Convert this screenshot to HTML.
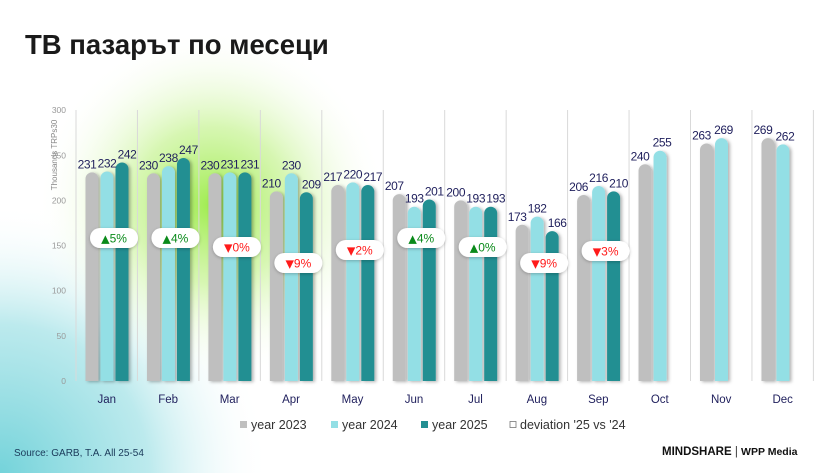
<!DOCTYPE html>
<html><head><meta charset="utf-8"><style>
html,body{margin:0;padding:0;width:840px;height:473px;overflow:hidden;background:#fff}
svg text{font-family:"Liberation Sans",sans-serif}
</style></head><body>
<svg id="s" width="840" height="473" xmlns="http://www.w3.org/2000/svg">
<defs>
<radialGradient id="g1" cx="212" cy="205" r="175" gradientUnits="userSpaceOnUse">
<stop offset="0" stop-color="#9fec4e" stop-opacity="1"/><stop offset="0.45" stop-color="#c6f392" stop-opacity="0.7"/><stop offset="1" stop-color="#fff" stop-opacity="0"/></radialGradient>
<radialGradient id="g2" cx="0" cy="473" r="270" gradientUnits="userSpaceOnUse">
<stop offset="0" stop-color="#74d3da"/><stop offset="0.55" stop-color="#b0e6ea" stop-opacity="0.85"/><stop offset="1" stop-color="#fff" stop-opacity="0"/></radialGradient>
<filter id="sh" x="-30%" y="-10%" width="180%" height="130%"><feDropShadow dx="2" dy="1" stdDeviation="1.5" flood-color="#000" flood-opacity="0.3"/></filter>
<filter id="sh2" x="-20%" y="-30%" width="140%" height="180%"><feDropShadow dx="0" dy="1" stdDeviation="1.5" flood-color="#000" flood-opacity="0.25"/></filter>
</defs>
<rect width="840" height="473" fill="#fff"/>
<rect width="840" height="473" fill="url(#g2)"/>
<rect width="840" height="473" fill="url(#g1)"/>
<text x="25" y="54" font-size="27.5" font-weight="bold" fill="#1a1a1a">ТВ пазарът по месеци</text>
<g id="c"></g>
<text transform="translate(57,155) rotate(-90)" font-size="8" fill="#888" text-anchor="middle">Thousands TRPs30</text>
<g font-size="12.5" fill="#333">
<rect x="240" y="421" width="7" height="7" fill="#bfbfbf"/><text x="251" y="429">year 2023</text>
<rect x="331" y="421" width="7" height="7" fill="#93dfe5"/><text x="342" y="429">year 2024</text>
<rect x="421" y="421" width="7" height="7" fill="#238f92"/><text x="432" y="429">year 2025</text>
<rect x="510" y="421.5" width="6" height="6" fill="#fff" stroke="#777" stroke-width="0.8"/><text x="520" y="429">deviation '25 vs '24</text>
</g>
<text x="14" y="456" font-size="10" fill="#1a3a5a">Source: GARB, T.A. All 25-54</text>
<text x="662" y="455" font-size="11.5" font-weight="bold" fill="#111">MINDSHARE <tspan font-weight="normal" fill="#333">|</tspan> <tspan font-size="10.5">WPP Media</tspan></text>
</svg>
<script>
var c=document.getElementById('c'),h='';
var y0=381,k=0.903,b0=76,st=61.45;
var mon=['Jan','Feb','Mar','Apr','May','Jun','Jul','Aug','Sep','Oct','Nov','Dec'];
var d=[[231,232,242],[230,238,247],[230,231,231],[210,230,209],[217,220,217],[207,193,201],[200,193,193],[173,182,166],[206,216,210],[240,255],[263,269],[269,262]];
var dev=[['▲','5%',238],['▲','4%',238],['▼','0%',247],['▼','9%',263],['▼','2%',250],['▲','4%',238],['▲','0%',247],['▼','9%',263],['▼','3%',251]];
var col=['#bfbfbf','#93dfe5','#238f92'];
for(var i=0;i<=12;i++){var x=b0+i*st;h+='<line x1="'+x+'" y1="110" x2="'+x+'" y2="381" stroke="#d9d9d9" stroke-width="1"/>';}
for(var t=0;t<=300;t+=50){h+='<text x="66" y="'+(y0-t*k+3)+'" font-size="8.5" fill="#999" text-anchor="end">'+t+'</text>';}
var lab='';
for(var i=0;i<12;i++){var bx=b0+i*st+9.5;
 for(var j=0;j<d[i].length;j++){var v=d[i][j],x=bx+j*15,hh=v*k,y=y0-hh;
  h+='<path filter="url(#sh)" fill="'+col[j]+'" d="M'+x+' '+y0+'V'+(y+6.5)+'a6.5 6.5 0 0 1 13 0V'+y0+'Z"/>';
  var off=d[i].length==3?[-5,0,5][j]:[-5,2][j];
  lab+='<text x="'+(x+6.5+off)+'" y="'+(y-4)+'" font-size="12" letter-spacing="-0.4" fill="#1f1f5c" text-anchor="middle">'+v+'</text>';}
 h+='<text x="'+(b0+i*st+st/2)+'" y="403" font-size="11.5" fill="#1f1f5c" text-anchor="middle">'+mon[i]+'</text>';}
h+=lab;
for(var i=0;i<dev.length;i++){var cx=b0+i*st+38,cy=dev[i][2],up=dev[i][0]=='▲',cl=up?'#0a8a1a':'#ff1a1a';
 h+='<rect filter="url(#sh2)" x="'+(cx-24)+'" y="'+(cy-10)+'" width="48" height="20" rx="10" fill="#fff"/>';
 h+='<text x="'+cx+'" y="'+(cy+4.5)+'" font-size="12" fill="'+cl+'" text-anchor="middle"><tspan font-family="DejaVu Sans" font-size="11">'+dev[i][0]+'</tspan>'+dev[i][1]+'</text>';}
c.innerHTML=h;
</script>
</body></html>
